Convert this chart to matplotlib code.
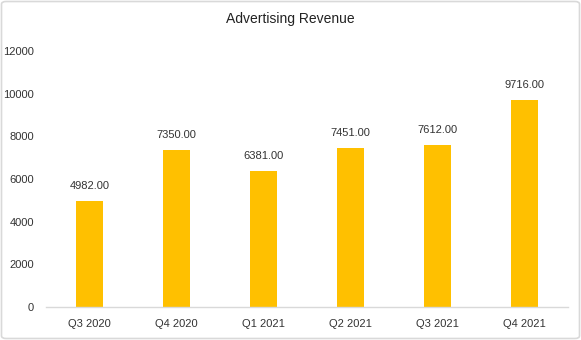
import matplotlib
matplotlib.use("Agg")
import matplotlib.pyplot as plt
from matplotlib.patches import FancyBboxPatch

quarters = ["Q3 2020", "Q4 2020", "Q1 2021", "Q2 2021", "Q3 2021", "Q4 2021"]
revenue = [4982.00, 7350.00, 6381.00, 7451.00, 7612.00, 9716.00]
y_ticks = [0, 2000, 4000, 6000, 8000, 10000, 12000]

plt.rcParams["font.family"] = ["Liberation Sans", "DejaVu Sans"]
text_color = "#333333"

fig = plt.figure(figsize=(5.81, 3.40), dpi=100)
ax = fig.add_axes([46 / 581, 33 / 340, 522 / 581, 256 / 340])

x = range(len(quarters))
ax.bar(x, revenue, width=0.32, color="#FFC000", zorder=2)
for xi, v in zip(x, revenue):
    ax.annotate(f"{v:.2f}", (xi, v), xytext=(0, 7), textcoords="offset points",
                ha="center", va="bottom", fontsize=8, color=text_color)

ax.set_xlim(-0.5, len(quarters) - 0.5)
ax.set_ylim(0, 12000)
ax.set_xticks(list(x))
ax.set_xticklabels(quarters, fontsize=8, color=text_color)
ax.set_yticks(y_ticks)
ax.set_yticklabels([str(t) for t in y_ticks], fontsize=8, color=text_color)
ax.tick_params(axis="x", length=0, pad=8.5)
ax.tick_params(axis="y", length=0, pad=8.5)
for side in ["top", "right", "left"]:
    ax.spines[side].set_visible(False)
ax.spines["bottom"].set_color("#d9d9d9")
ax.spines["bottom"].set_linewidth(1)

fig.text(0.5, 1 - 19 / 340, "Advertising Revenue", ha="center", va="center",
         fontsize=10, color="#222222")

border = FancyBboxPatch((1.5 / 581, 1.5 / 340), 1 - 3 / 581, 1 - 3 / 340,
                        boxstyle="round,pad=0,rounding_size=0.008",
                        transform=fig.transFigure, facecolor="none",
                        edgecolor="#d9d9d9", linewidth=1.2)
fig.patches.append(border)

fig.savefig("out.png", dpi=100)
